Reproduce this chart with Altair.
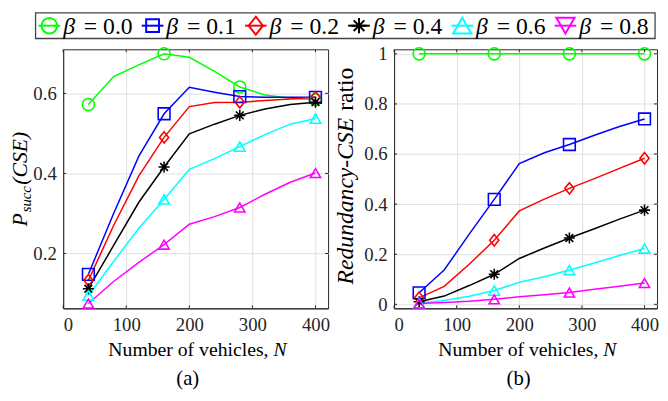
import altair as alt
import pandas as pd

# ---------------- data ----------------
N_LINE = [40, 80, 120, 160, 200, 240, 280, 320, 360, 400]
N_MARK = [40, 160, 280, 400]
BETAS = ["0.0", "0.1", "0.2", "0.4", "0.6", "0.8"]

# (a) P_succ(CSE)
PSUCC_B00 = [0.572, 0.642, 0.671, 0.699, 0.690, 0.655, 0.616, 0.596, 0.588, 0.584]
PSUCC_B01 = [0.148, 0.300, 0.443, 0.549, 0.615, 0.603, 0.592, 0.590, 0.590, 0.590]
PSUCC_B02 = [0.133, 0.270, 0.394, 0.490, 0.567, 0.577, 0.578, 0.582, 0.586, 0.590]
PSUCC_B04 = [0.112, 0.220, 0.328, 0.416, 0.499, 0.523, 0.545, 0.561, 0.572, 0.578]
PSUCC_B06 = [0.095, 0.180, 0.263, 0.335, 0.410, 0.437, 0.467, 0.497, 0.523, 0.537]
PSUCC_B08 = [0.075, 0.130, 0.178, 0.222, 0.273, 0.292, 0.315, 0.348, 0.378, 0.401]

# (b) Redundancy-CSE ratio
RED_B00 = [1.0, 1.0, 1.0, 1.0, 1.0, 1.0, 1.0, 1.0, 1.0, 1.0]
RED_B01 = [0.046, 0.137, 0.280, 0.419, 0.562, 0.605, 0.638, 0.675, 0.710, 0.740]
RED_B02 = [0.026, 0.072, 0.160, 0.256, 0.373, 0.420, 0.463, 0.502, 0.543, 0.583]
RED_B04 = [0.010, 0.033, 0.075, 0.120, 0.183, 0.225, 0.265, 0.302, 0.340, 0.376]
RED_B06 = [0.005, 0.015, 0.032, 0.055, 0.088, 0.110, 0.137, 0.165, 0.195, 0.223]
RED_B08 = [0.003, 0.007, 0.012, 0.020, 0.030, 0.038, 0.047, 0.060, 0.072, 0.085]

X_TICKS = [0, 100, 200, 300, 400]
Y_TICKS_A = [0.2, 0.4, 0.6]
Y_TICKS_B = [0, 0.2, 0.4, 0.6, 0.8, 1]

# ---------------- styles ----------------
FONT = "Liberation Serif"
COLORS = ["#00ff00", "#0000ff", "#ff0000", "#000000", "#00ffff", "#ff00ff"]
DIAMOND = "M0,-1L0.8,0L0,1L-0.8,0Z"
ASTER = "M-1,0L1,0M0,-1L0,1M-0.7,-0.7L0.7,0.7M-0.7,0.7L0.7,-0.7"
SHAPES = ["circle", "square", DIAMOND, ASTER, "triangle-up", "triangle-up"]
LEG_SHAPES = ["circle", "square", DIAMOND, ASTER, "triangle-up", "triangle-down"]
SIZES = [150, 110, 250, 150, 230, 230]
LEG_SIZES = [250, 170, 330, 240, 340, 340]
FRAME = "#262626"
TICK_LEN = 3

W1, W2, H = 269, 267, 263


def long_df(series_list):
    rows = []
    for b, vals in zip(BETAS, series_list):
        for n, v in zip(N_LINE, vals):
            rows.append({"series": b, "N": n, "v": v, "mark": n in N_MARK})
    return pd.DataFrame(rows)


df_a = long_df([PSUCC_B00, PSUCC_B01, PSUCC_B02, PSUCC_B04, PSUCC_B06, PSUCC_B08])
df_b = long_df([RED_B00, RED_B01, RED_B02, RED_B04, RED_B06, RED_B08])


def txt(text, x, y, size, italic=False, align="center", angle=0, dx=0, dy=0):
    return alt.Chart(alt.Data(values=[{}])).mark_text(
        text=text, font=FONT, fontSize=size,
        fontStyle="italic" if italic else "normal",
        align=align, baseline="middle", angle=angle, dx=dx, dy=dy, color="black",
    ).encode(x=alt.value(x), y=alt.value(y))


def panel(df, ydomain, yticks, yfmt, width, extra):
    xscale = alt.Scale(domain=[0, 420], nice=False)
    yscale = alt.Scale(domain=ydomain, nice=False, zero=False)
    xaxis = alt.Axis(values=X_TICKS, title=None, format="d", labelFont=FONT)
    yaxis = alt.Axis(values=yticks, title=None, format=yfmt, labelFont=FONT)
    x = alt.X("N:Q", scale=xscale, axis=xaxis)
    y = alt.Y("v:Q", scale=yscale, axis=yaxis)
    color = alt.Color("series:N", scale=alt.Scale(domain=BETAS, range=COLORS), legend=None)
    base = alt.Chart(df)
    lines = base.mark_line(strokeWidth=1.5).encode(x=x, y=y, color=color)
    pts = base.transform_filter("datum.mark").mark_point(
        filled=False, strokeWidth=1.6, opacity=1
    ).encode(
        x=x, y=y, color=color,
        shape=alt.Shape("series:N", scale=alt.Scale(domain=BETAS, range=SHAPES), legend=None),
        size=alt.Size("series:N", scale=alt.Scale(domain=BETAS, range=SIZES), legend=None),
    )
    # inward MATLAB-style ticks on all four sides
    xt_data = alt.Data(values=[{"t": t} for t in X_TICKS])
    yt_data = alt.Data(values=[{"t": t} for t in yticks])
    xtk_b = alt.Chart(xt_data).mark_rule(color=FRAME, strokeWidth=1).encode(
        x=alt.X("t:Q", scale=xscale, axis=xaxis), y=alt.value(H), y2=alt.value(H - TICK_LEN))
    xtk_t = alt.Chart(xt_data).mark_rule(color=FRAME, strokeWidth=1).encode(
        x=alt.X("t:Q", scale=xscale, axis=xaxis), y=alt.value(0), y2=alt.value(TICK_LEN))
    ytk_l = alt.Chart(yt_data).mark_rule(color=FRAME, strokeWidth=1).encode(
        y=alt.Y("t:Q", scale=yscale, axis=yaxis), x=alt.value(0), x2=alt.value(TICK_LEN))
    ytk_r = alt.Chart(yt_data).mark_rule(color=FRAME, strokeWidth=1).encode(
        y=alt.Y("t:Q", scale=yscale, axis=yaxis), x=alt.value(width), x2=alt.value(width - TICK_LEN))
    xt1 = txt("Number of vehicles,", width / 2 + 74, H + 42, 20, align="right")
    xt2 = txt("N", width / 2 + 79, H + 42, 20, italic=True, align="left")
    return alt.layer(lines, pts, xtk_b, xtk_t, ytk_l, ytk_r, xt1, xt2, *extra).properties(
        width=width, height=H)


# y titles (rotated); dx runs along the text direction
a_cy = H / 2
ya = [
    txt("P", -44, a_cy, 22, italic=True, align="right", angle=270, dx=-35),
    txt("succ", -44, a_cy, 15, italic=True, align="left", angle=270, dx=-34, dy=6),
    txt("(CSE)", -44, a_cy, 22, italic=True, align="left", angle=270, dx=-6),
    txt("(a)", W1 / 2 - 8, H + 72, 21),
]
yb = [
    txt("Redundancy-CSE", -49, a_cy, 24, italic=True, align="right", angle=270, dx=62),
    txt("ratio", -49, a_cy, 24, align="left", angle=270, dx=69),
    txt("(b)", W2 / 2 - 7, H + 72, 21),
]

left = panel(df_a, [0.063, 0.71], Y_TICKS_A, ".1f", W1, ya)
right = panel(df_b, [-0.016, 1.018], Y_TICKS_B, "~g", W2, yb)

# ---------------- legend strip ----------------
# legend view origin lines up with the left plot's origin
LW, LH = 560, 26
BOX_L, BOX_R = -28, 601
leg_rows = []
for i, b in enumerate(BETAS):
    mx = -14 + i * 104.8
    leg_rows.append({
        "mx": mx, "x1": mx - 11, "x2": mx + 11, "bx": mx + 14, "tx": mx + 35,
        "lab": "= " + b, "col": COLORS[i], "shp": LEG_SHAPES[i], "sz": LEG_SIZES[i],
    })
leg_df = pd.DataFrame(leg_rows)
lbase = alt.Chart(leg_df)
box = alt.Chart(alt.Data(values=[{}])).mark_rect(
    fill="white", stroke="#444444", strokeWidth=1.3
).encode(x=alt.value(BOX_L), x2=alt.value(BOX_R), y=alt.value(0), y2=alt.value(LH))
lrule = lbase.mark_rule(strokeWidth=2).encode(
    x=alt.X("x1:Q", scale=None), x2="x2:Q", y=alt.value(LH / 2),
    color=alt.Color("col:N", scale=None))
lpts = lbase.mark_point(filled=False, strokeWidth=2, opacity=1).encode(
    x=alt.X("mx:Q", scale=None), y=alt.value(LH / 2),
    color=alt.Color("col:N", scale=None),
    shape=alt.Shape("shp:N", scale=None),
    size=alt.Size("sz:Q", scale=None))
lbeta = lbase.mark_text(text="β", font=FONT, fontSize=24, fontStyle="italic",
                        align="left", baseline="middle", color="black").encode(
    x=alt.X("bx:Q", scale=None), y=alt.value(LH / 2 + 1))
llab = lbase.mark_text(font=FONT, fontSize=24, align="left", baseline="middle",
                       color="black").encode(
    x=alt.X("tx:Q", scale=None), y=alt.value(LH / 2 + 1), text="lab:N")
legend = alt.layer(box, lrule, lpts, lbeta, llab).properties(
    width=LW, height=LH, view=alt.ViewBackground(stroke="transparent"))

chart = alt.vconcat(
    legend,
    alt.hconcat(left, right, spacing=67, bounds="flush"),
    spacing=11, bounds="flush",
).resolve_scale(
    color="independent", shape="independent", size="independent"
).properties(padding=0, background="white").configure_view(
    stroke=FRAME, strokeWidth=1
).configure_axis(
    grid=True, gridColor="#dedede", gridWidth=1, domain=True, domainColor=FRAME,
    ticks=False, labelFont=FONT, labelFontSize=19, labelColor=FRAME, labelPadding=7,
)

chart.save("out.html", embed_options={"renderer": "svg", "actions": False})
